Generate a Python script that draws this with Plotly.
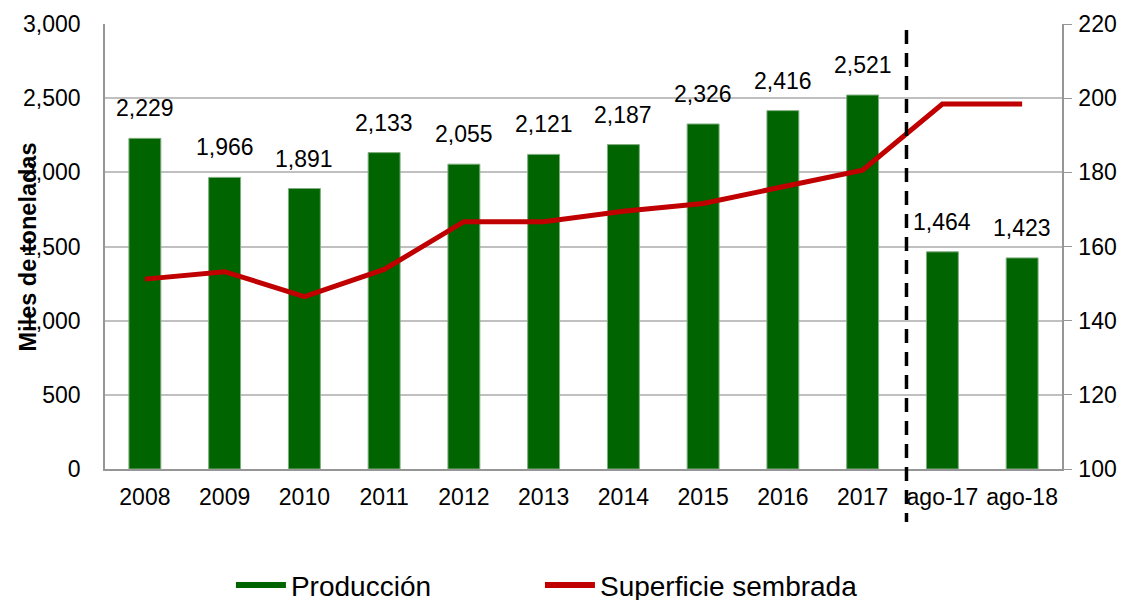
import plotly.graph_objects as go

categorias = ["2008", "2009", "2010", "2011", "2012", "2013", "2014", "2015", "2016", "2017", "ago-17", "ago-18"]
produccion = [2229, 1966, 1891, 2133, 2055, 2121, 2187, 2326, 2416, 2521, 1464, 1423]
superficie = [151.2, 153.2, 146.5, 153.8, 166.7, 166.7, 169.5, 171.6, 176.1, 180.6, 198.4, 198.4]

VERDE = "#006400"
ROJO = "#C00000"
FONT = "Liberation Sans, Arial, sans-serif"
FS = 23

fig = go.Figure()
fig.add_trace(go.Bar(
    x=categorias, y=produccion, name="Producción",
    marker=dict(color=VERDE, line=dict(color="#7fae7f", width=1)),
    width=0.4, showlegend=False, yaxis="y",
))
fig.add_trace(go.Scatter(
    x=categorias, y=superficie, name="Superficie sembrada", mode="lines",
    line=dict(color=ROJO, width=5), yaxis="y2", showlegend=False,
))
# legend entries (line style symbols as in reference)
fig.add_trace(go.Scatter(x=[None], y=[None], mode="lines", name="Producción",
                         line=dict(color=VERDE, width=6), legend="legend"))
fig.add_trace(go.Scatter(x=[None], y=[None], mode="lines", name="Superficie sembrada",
                         line=dict(color=ROJO, width=6), legend="legend2"))

for i, v in enumerate(produccion):
    fig.add_annotation(x=i, y=v, xref="x", yref="y", text=f"{v:,}",
                       showarrow=False, yanchor="bottom", yshift=15,
                       font=dict(size=FS, color="#000000", family=FONT))

fig.add_annotation(x=-0.0805, y=0.5, xref="paper", yref="paper", text="<b>Miles de toneladas</b>",
                   showarrow=False, textangle=-90, xanchor="center", yanchor="middle",
                   font=dict(size=23.5, color="#000000", family=FONT))

fig.add_shape(type="line", xref="x", yref="paper", x0=9.55, x1=9.55, y0=0.9865, y1=-0.119,
              line=dict(color="#000000", width=3.5, dash="14px,9px"))

leg_common = dict(orientation="h", xanchor="left", yref="container", y=0.038,
                  yanchor="middle", font=dict(size=28, family=FONT), itemwidth=50,
                  bgcolor="rgba(0,0,0,0)")

fig.update_layout(
    width=1126, height=600,
    margin=dict(l=97, r=72, t=16, b=139, autoexpand=False),
    paper_bgcolor="white", plot_bgcolor="white",
    font=dict(family=FONT, size=FS, color="#000000"),
    bargap=0.6,
    xaxis=dict(type="category", showline=True, linecolor="#969696", linewidth=1.5,
               ticks="", tickfont=dict(size=FS), range=[-0.5, 11.5],
               ticklabelstandoff=7, automargin=False),
    yaxis=dict(range=[0, 3000], dtick=500, tickformat=",", showgrid=True,
               gridcolor="#C0C0C0", gridwidth=1.5, showline=True, linecolor="#969696",
               linewidth=1.5, ticks="", tickfont=dict(size=FS), zeroline=False,
               ticklabelstandoff=18, automargin=False),
    yaxis2=dict(range=[100, 220], dtick=20, overlaying="y", side="right", showgrid=False,
                showline=True, linecolor="#969696", linewidth=1.5, ticks="outside",
                ticklen=8, tickcolor="#969696", tickfont=dict(size=FS), zeroline=False,
                ticklabelstandoff=2, automargin=False),
    legend=dict(x=0.1316, **leg_common),
    legend2=dict(x=0.4545, **leg_common),
)

fig.write_html("out.html")
